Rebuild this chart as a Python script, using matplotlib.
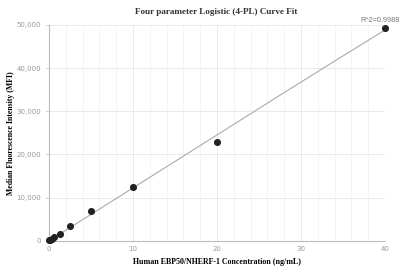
import numpy as np
import matplotlib
matplotlib.use("Agg")
import matplotlib.pyplot as plt
from matplotlib.ticker import FuncFormatter, MultipleLocator

conc = [40, 20, 10, 5, 2.5, 1.25, 0.625, 0.3125, 0.156, 0]
mfi = [49200, 22850, 12350, 6800, 3500, 1600, 900, 500, 250, 60]
# 4PL fit parameters (A=min, B=slope, C=inflection, D=max)
A, B, C, D = 50.0, 1.02, 1000.0, 1.35e6
r2_text = "R^2=0.9988"
title = "Four parameter Logistic (4-PL) Curve Fit"
xlabel = "Human EBP50/NHERF-1 Concentration (ng/mL)"
ylabel = "Median Fluorescence Intensity (MFI)"

fig = plt.figure(figsize=(4.01, 2.71), dpi=100)
ax = fig.add_axes([0.1222, 0.1118, 0.838, 0.796])

xs = np.linspace(0, 40, 400)
ys = D + (A - D) / (1 + (xs / C) ** B)
ax.plot(xs, ys, color="#aaaaaa", lw=0.8, zorder=2)
ax.scatter(conc, mfi, s=26, color="#222222", zorder=3, linewidths=0, clip_on=False)

ax.set_xlim(0, 40)
ax.set_ylim(0, 50000)
ax.xaxis.set_major_locator(MultipleLocator(10))
ax.xaxis.set_minor_locator(MultipleLocator(2))
ax.yaxis.set_major_locator(MultipleLocator(10000))
ax.yaxis.set_major_formatter(FuncFormatter(lambda v, p: f"{int(v):,}"))
ax.grid(which="major", color="#e6e6e6", lw=0.6, zorder=0)
ax.grid(which="minor", axis="x", color="#f3f3f3", lw=0.6, zorder=0)
for s in ["top", "right"]:
    ax.spines[s].set_visible(False)
for s in ["left", "bottom"]:
    ax.spines[s].set_color("#bbbbbb")
    ax.spines[s].set_linewidth(0.8)
ax.tick_params(axis="both", which="both", labelsize=5, labelcolor="#999999",
               color="#bbbbbb", length=2, width=0.6)
ax.tick_params(axis="x", which="both", length=0, pad=4)

fig.text(0.997, 0.924, r2_text, fontsize=5.2, color="#777777", ha="right", va="center",
         family="Liberation Sans")
fig.text(0.539, 0.955, title, fontsize=6.6, fontweight="bold", family="Liberation Serif",
         color="#333333", ha="center", va="center")
ax.set_xlabel(xlabel, fontsize=5.7, fontweight="bold", family="Liberation Serif", labelpad=4)
fig.text(0.027, 0.51, ylabel, fontsize=5.6, fontweight="bold", family="Liberation Serif",
         rotation=90, ha="center", va="center")

fig.savefig("out.png", dpi=100)
